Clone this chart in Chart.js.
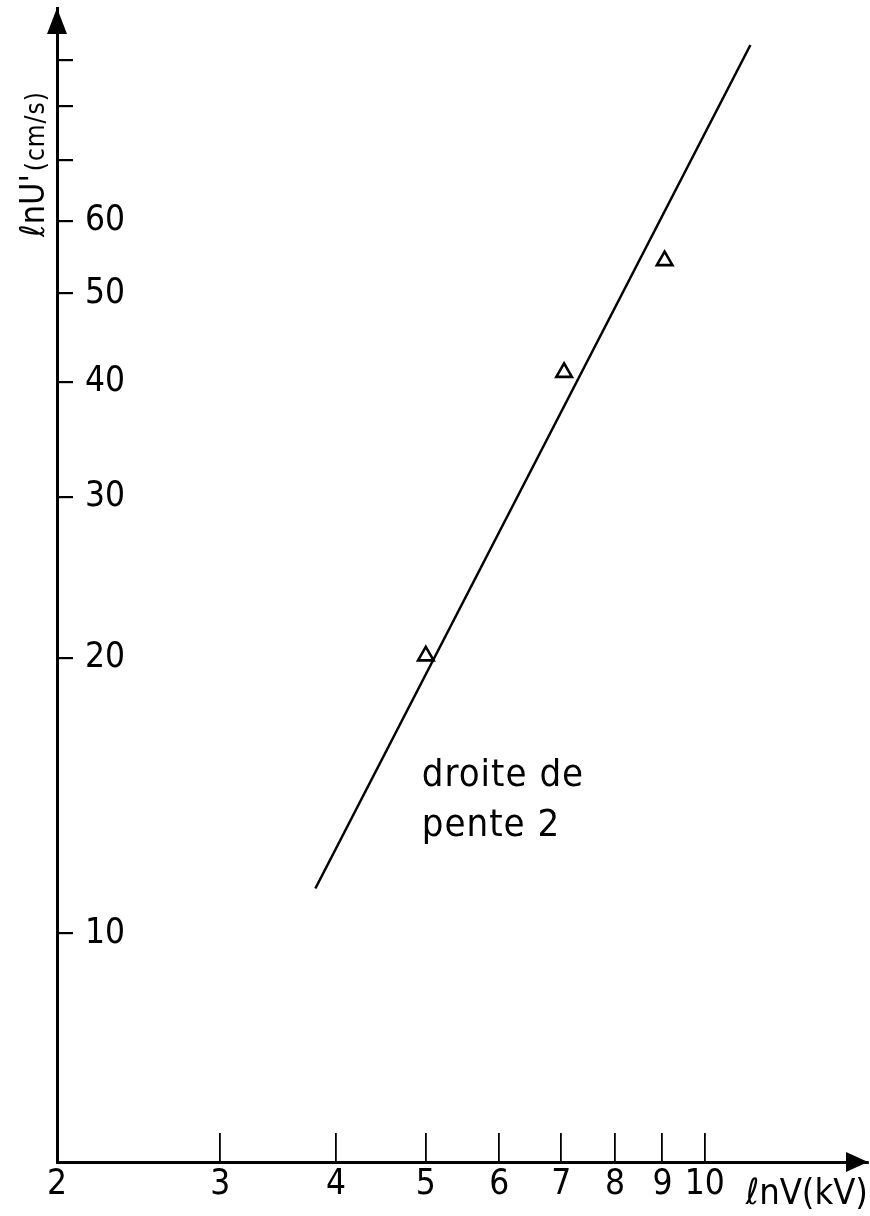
<!DOCTYPE html>
<html>
<head>
<meta charset="utf-8">
<script src="https://cdn.jsdelivr.net/npm/chart.js@4/dist/chart.umd.min.js"></script>
<style>
  html, body { margin: 0; padding: 0; background: #fff; overflow: hidden; }
  #wrap { width: 870px; height: 1216px; position: relative; }
  canvas { display: block; }
</style>
</head>
<body>
<div id="wrap"><canvas id="c"></canvas></div>
<script>
// ---- data (log-log plot) ----
const xTickValues = [2, 3, 4, 5, 6, 7, 8, 9, 10];
const xTickLabels = ['2', '3', '4', '5', '6', '7', '8', '9', '10'];
const yTickValues = [10, 20, 30, 40, 50, 60, 70, 80, 90];
const yTickLabels = ['10', '20', '30', '40', '50', '60', '', '', ''];
const xRange = [2, 15];
const yRange = [5.63, 102.5];

// measured points (triangles)
const measuredV = [5.0, 7.05, 9.05];
const measuredU = [20.1, 41.0, 54.3];

// "droite de pente 2" line end points
const fitV = [3.8, 11.2];
const fitU = [11.2, 93.4];

// annotation
const noteLines = ['droite de', 'pente 2'];
const noteAnchor = { v: 4.95, u: 14.5 };

const xTitle = 'ℓnV(kV)';
const yTitleMain = "ℓnU'";
const yTitleUnit = '(cm/s)';

const FONT = "'Liberation Sans Narrow', 'DejaVu Sans Condensed', 'Liberation Sans', sans-serif";

const measuredData = measuredV.map((v, i) => ({ x: v, y: measuredU[i] }));
const fitData = fitV.map((v, i) => ({ x: v, y: fitU[i] }));

const decor = {
  id: 'decor',
  afterDraw(chart) {
    const { ctx, chartArea, scales } = chart;
    const xs = scales.x, ys = scales.y;
    ctx.save();
    ctx.fillStyle = '#000';
    // arrowhead on y axis
    const ax = ys.right;
    const topY = chartArea.top;
    ctx.beginPath();
    ctx.moveTo(ax, topY);
    ctx.lineTo(ax - 10, topY + 26);
    ctx.lineTo(ax + 10, topY + 26);
    ctx.closePath();
    ctx.fill();
    // arrowhead on x axis
    const ay = xs.top;
    const rightX = chartArea.right;
    ctx.beginPath();
    ctx.moveTo(rightX, ay);
    ctx.lineTo(rightX - 22, ay - 10);
    ctx.lineTo(rightX - 22, ay + 10);
    ctx.closePath();
    ctx.fill();

    // annotation text
    ctx.font = '38px ' + FONT;
    ctx.textBaseline = 'alphabetic';
    ctx.textAlign = 'left';
    try { ctx.letterSpacing = '1px'; } catch (e) {}
    const nx = xs.getPixelForValue(noteAnchor.v);
    const ny = ys.getPixelForValue(noteAnchor.u);
    noteLines.forEach((t, i) => ctx.fillText(t, nx, ny + i * 50));

    // y axis title (rotated)
    try { ctx.letterSpacing = '0px'; } catch (e) {}
    ctx.translate(44, 237);
    ctx.rotate(-Math.PI / 2);
    ctx.font = '34px ' + FONT;
    ctx.fillText(yTitleMain, 0, 0);
    const w = ctx.measureText(yTitleMain).width;
    try { ctx.letterSpacing = '1px'; } catch (e) {}
    ctx.font = '26px ' + FONT;
    ctx.fillText(yTitleUnit, w + 3, 0);
    ctx.restore();
  }
};

new Chart(document.getElementById('c'), {
  type: 'scatter',
  data: {
    datasets: [
      {
        label: 'droite de pente 2',
        data: fitData,
        showLine: true,
        borderColor: '#000',
        borderWidth: 2.5,
        pointRadius: 0,
        fill: false,
        clip: false
      },
      {
        label: 'mesures',
        data: measuredData,
        showLine: false,
        pointStyle: 'triangle',
        pointRadius: 9,
        pointBorderWidth: 2.6,
        pointBorderColor: '#000',
        pointBackgroundColor: '#fff',
        clip: false
      }
    ]
  },
  options: {
    responsive: true,
    maintainAspectRatio: false,
    animation: false,
    layout: { autoPadding: false, padding: { left: 0, top: 8, right: 2, bottom: 0 } },
    plugins: {
      legend: { display: false },
      tooltip: { enabled: false },
      title: { display: false }
    },
    scales: {
      x: {
        type: 'logarithmic',
        position: 'bottom',
        min: xRange[0],
        max: xRange[1],
        afterBuildTicks: s => { s.ticks = xTickValues.map(v => ({ value: v })); },
        afterFit: s => { s.height = 54; s.paddingLeft = 0; s.paddingRight = 0; },
        border: { display: true, color: '#000', width: 3 },
        grid: { display: true, drawOnChartArea: false, drawTicks: true, tickLength: -29, color: '#000', lineWidth: 1.8 },
        ticks: {
          autoSkip: false,
          maxRotation: 0,
          minRotation: 0,
          padding: 31,
          color: '#000',
          font: { family: FONT, size: 35 },
          callback: (v, i) => xTickLabels[i]
        },
        title: {
          display: true,
          text: xTitle,
          align: 'end',
          color: '#000',
          padding: { top: 0, bottom: 0 },
          font: { family: FONT, size: 36 }
        }
      },
      y: {
        type: 'logarithmic',
        position: 'left',
        min: yRange[0],
        max: yRange[1],
        afterBuildTicks: s => { s.ticks = yTickValues.map(v => ({ value: v })); },
        afterFit: s => { s.width = 57; s.paddingTop = 0; s.paddingBottom = 0; },
        border: { display: true, color: '#000', width: 3 },
        grid: { display: true, drawOnChartArea: false, drawTicks: true, tickLength: -16, color: '#000', lineWidth: 2.2 },
        ticks: {
          autoSkip: false,
          mirror: true,
          padding: 28,
          color: '#000',
          font: { family: FONT, size: 35 },
          callback: (v, i) => yTickLabels[i]
        }
      }
    }
  },
  plugins: [decor]
});
</script>
</body>
</html>
